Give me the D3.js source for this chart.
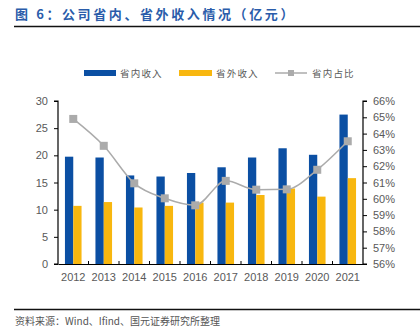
<!DOCTYPE html>
<html><head><meta charset="utf-8">
<script src="https://cdn.jsdelivr.net/npm/d3@7"></script>
<style>body{margin:0;background:#fff;}svg{display:block;font-family:"Liberation Sans",Arial,sans-serif;}</style>
</head><body>
<svg id="c" width="420" height="329"></svg>
<script>
const years = ["2012","2013","2014","2015","2016","2017","2018","2019","2020","2021"];
const inProvince = [19.75,19.6,16.3,16.1,16.75,17.8,19.6,21.3,20.1,27.5];
const outProvince = [10.7,11.4,10.4,10.7,11.3,11.3,12.7,13.9,12.4,15.8];
const inShare = [64.9,63.25,60.95,60.03,59.6,61.1,60.56,60.58,61.78,63.53];
const leftTicks = [0,5,10,15,20,25,30];
const rightTicks = [56,57,58,59,60,61,62,63,64,65,66];
const seriesNames = ["省内收入","省外收入","省内占比"];

const svg = d3.select("#c");
const blue = "#0b4fa3", yellow = "#f8b70f", gray = "#ababab", txt = "#595959";
const L = 58, R = 363, T = 101, B = 264;

// title
svg.append("text").attr("x",15).attr("y",19).attr("fill","#2a5caa").attr("font-size",13).attr("font-weight","bold")
  .attr("letter-spacing",2.6)
  .attr("font-family","'Noto Sans CJK SC',sans-serif").text("图 6：公司省内、省外收入情况（亿元）");
svg.append("line").attr("x1",14).attr("x2",420).attr("y1",26.5).attr("y2",26.5).attr("stroke","#111").attr("stroke-width",1.5);
svg.append("line").attr("x1",14).attr("x2",420).attr("y1",309.5).attr("y2",309.5).attr("stroke","#111").attr("stroke-width",1.5);
svg.append("text").attr("x",15).attr("y",325).attr("fill","#555").attr("font-size",10)
  .attr("font-family","'Noto Sans CJK SC',sans-serif").text("资料来源：Wind、Ifind、国元证券研究所整理");

const x = d3.scaleBand().domain(years).range([L,R]);
const yL = d3.scaleLinear().domain([0,30]).range([B,T]);
const yR = d3.scaleLinear().domain([56,66]).range([B,T]);
const bw = 8.3;

const g = svg.append("g");
years.forEach((yr,i)=>{
  const c = x(yr)+x.bandwidth()/2;
  g.append("rect").attr("x",c-bw).attr("width",bw).attr("y",yL(inProvince[i])).attr("height",B-yL(inProvince[i])).attr("fill",blue);
  g.append("rect").attr("x",c).attr("width",bw).attr("y",yL(outProvince[i])).attr("height",B-yL(outProvince[i])).attr("fill",yellow);
});

// axes
const axL = svg.append("g").attr("transform",`translate(${L},0)`).call(d3.axisLeft(yL).tickValues(leftTicks).tickSize(4).tickPadding(6));
const axR = svg.append("g").attr("transform",`translate(${R},0)`).call(d3.axisRight(yR).tickValues(rightTicks).tickSize(4).tickPadding(6).tickFormat(d=>d+"%"));
const axB = svg.append("g").attr("transform",`translate(0,${B})`).call(d3.axisBottom(x).tickSize(0).tickPadding(9));
[axL,axR,axB].forEach(a=>{
  a.selectAll("path").attr("stroke","#000").attr("stroke-width",1.2);
  a.selectAll("line").attr("stroke","#000");
  a.selectAll("text").attr("fill",txt).attr("font-size",11);
});
axL.select("path").attr("d",`M-4,${T}H0V${B}H-4`);
axR.select("path").attr("d",`M4,${T}H0V${B}H4`);
// x tick marks between categories
years.forEach((yr,i)=>{
  if(i>0) svg.append("line").attr("x1",x(yr)).attr("x2",x(yr)).attr("y1",B).attr("y2",B-3).attr("stroke","#000");
});

// line
const line = d3.line().x((d,i)=>x(years[i])+x.bandwidth()/2).y(d=>yR(d)).curve(d3.curveMonotoneX);
svg.append("path").attr("d",line(inShare)).attr("fill","none").attr("stroke",gray).attr("stroke-width",1.5);
inShare.forEach((v,i)=>{
  svg.append("rect").attr("x",x(years[i])+x.bandwidth()/2-4).attr("y",yR(v)-4).attr("width",8).attr("height",8).attr("fill",gray);
});

// legend
const lf = "'Noto Sans CJK SC',sans-serif";
const ly = 73;
function ltext(xp, s){
  svg.append("text").attr("x",xp).attr("y",ly+3.5).attr("font-size",9.5).attr("letter-spacing",1.2).attr("fill",txt).attr("font-family",lf).text(s);
}
svg.append("rect").attr("x",84).attr("y",ly-3).attr("width",32).attr("height",6).attr("fill",blue);
ltext(120, seriesNames[0]);
svg.append("rect").attr("x",179).attr("y",ly-3).attr("width",33).attr("height",6).attr("fill",yellow);
ltext(216, seriesNames[1]);
svg.append("line").attr("x1",275).attr("x2",307).attr("y1",ly).attr("y2",ly).attr("stroke",gray).attr("stroke-width",1.5);
svg.append("rect").attr("x",288).attr("y",ly-3).attr("width",6).attr("height",6).attr("fill",gray);
ltext(312, seriesNames[2]);
</script>
</body></html>
